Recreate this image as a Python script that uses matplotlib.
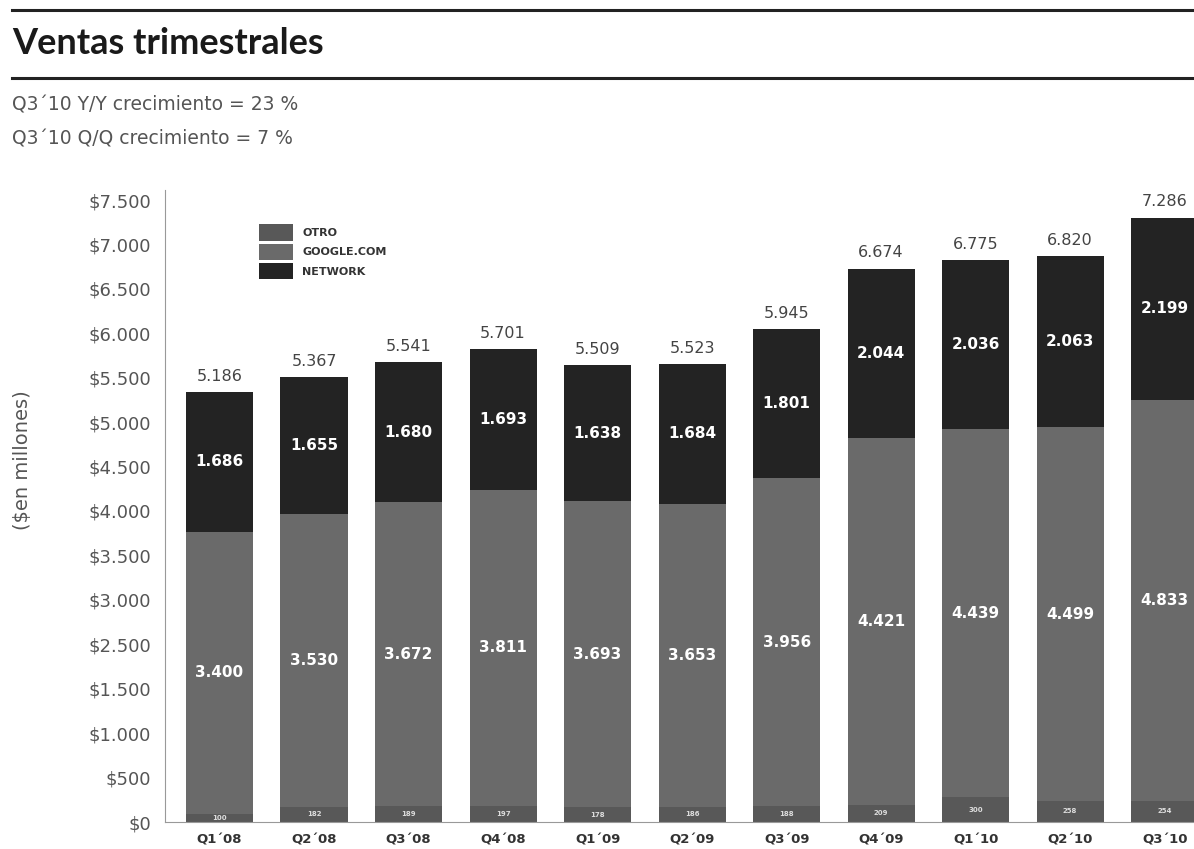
import numpy as np
import matplotlib
matplotlib.use("Agg")
import matplotlib.pyplot as plt
from matplotlib.patches import Patch
from matplotlib.lines import Line2D

# Quarterly revenue split (millions of dollars)
quarters = ["Q1´08", "Q2´08", "Q3´08", "Q4´08", "Q1´09", "Q2´09",
            "Q3´09", "Q4´09", "Q1´10", "Q2´10", "Q3´10"]
otro = [100, 182, 189, 197, 178, 186, 188, 209, 300, 258, 254]
google_com = [3400, 3530, 3672, 3811, 3693, 3653, 3956, 4421, 4439, 4499, 4833]
network = [1686, 1655, 1680, 1693, 1638, 1684, 1801, 2044, 2036, 2063, 2199]

y_tick_labels = ["$0", "$500", "$1.000", "$1.500", "$2.500", "$3.000", "$3.500",
                 "$4.000", "$4.500", "$5.000", "$5.500", "$6.000", "$6.500",
                 "$7.000", "$7.500"]

series_names = ["OTRO", "GOOGLE.COM", "NETWORK"]
colors = ["#585858", "#6a6a6a", "#232323"]


def fmt(v):
    return f"{v:,}".replace(",", ".")


W, H = 1194, 849
fig = plt.figure(figsize=(W / 100, H / 100), dpi=100)
fig.patch.set_facecolor("white")

# Header: rules, title and growth notes
fig.add_artist(Line2D([12 / W, 1.0], [1 - 10 / H, 1 - 10 / H], color="#222222", lw=2.2))
fig.add_artist(Line2D([12 / W, 1.0], [1 - 78 / H, 1 - 78 / H], color="#222222", lw=2.2))
fig.text(12 / W, 1 - 44 / H, "Ventas trimestrales", fontsize=26, fontweight="bold",
         family="Lato", color="#1a1a1a", va="center", ha="left")
fig.text(12 / W, 1 - 105 / H, "Q3´10 Y/Y crecimiento = 23 %", fontsize=13.5,
         family="DejaVu Sans", color="#555555", va="center", ha="left")
fig.text(12 / W, 1 - 139 / H, "Q3´10 Q/Q crecimiento = 7 %", fontsize=13.5,
         family="DejaVu Sans", color="#555555", va="center", ha="left")

ax = fig.add_axes([165 / W, 1 - 822 / H, 1 - 165 / W, (822 - 200) / H])
x = np.arange(len(quarters))
bw = 0.71

otro_a = np.array(otro)
goog_a = np.array(google_com)
net_a = np.array(network)
totals = otro_a + goog_a + net_a

ax.bar(x, otro_a, bw, color=colors[0], zorder=2)
ax.bar(x, goog_a, bw, bottom=otro_a, color=colors[1], zorder=2)
ax.bar(x, net_a, bw, bottom=otro_a + goog_a, color=colors[2], zorder=2)

for i in range(len(x)):
    ax.text(x[i], otro_a[i] / 2, fmt(otro[i]), ha="center", va="center",
            fontsize=5, color="#dddddd", fontweight="bold", zorder=3)
    ax.text(x[i], otro_a[i] + goog_a[i] / 2, fmt(google_com[i]), ha="center",
            va="center", fontsize=11, color="white", fontweight="bold",
            family="DejaVu Sans", zorder=3)
    ax.text(x[i], otro_a[i] + goog_a[i] + net_a[i] / 2, fmt(network[i]),
            ha="center", va="center", fontsize=11, color="white",
            fontweight="bold", family="DejaVu Sans", zorder=3)
    ax.annotate(fmt(int(totals[i])), (x[i], totals[i]), xytext=(0, 6),
                textcoords="offset points", ha="center", va="bottom",
                fontsize=11.5, color="#444444", family="DejaVu Sans",
                annotation_clip=False)

ax.set_xlim(-0.577, 10.31)
ax.set_ylim(0, 7500)
ax.set_yticks(np.linspace(0, 7500, len(y_tick_labels)))
ax.set_yticklabels(y_tick_labels, fontsize=13, color="#555555", family="DejaVu Sans")
ax.set_xticks(x)
ax.set_xticklabels(quarters, fontsize=9.5, fontweight="bold", color="#333333",
                   family="DejaVu Sans")
ax.tick_params(axis="both", length=0)
ax.tick_params(axis="y", pad=10)
ax.tick_params(axis="x", pad=8)

for side in ["top", "right"]:
    ax.spines[side].set_visible(False)
ax.spines["left"].set_color("#999999")
ax.spines["bottom"].set_color("#999999")
ax.spines["left"].set_bounds(0, 7620)

ax.set_ylabel("($en millones)", fontsize=14, color="#555555",
              family="DejaVu Sans")
ax.yaxis.set_label_coords(-133 / (W - 165), (822 - 460) / 622)

handles = [Patch(facecolor=c, edgecolor="none") for c in colors]
leg = ax.legend(handles, series_names, loc="upper left",
                bbox_to_anchor=(0.087, 0.968), frameon=False,
                handlelength=3.1, handleheight=1.9, labelspacing=0.25,
                handletextpad=0.8, borderaxespad=0,
                prop={"size": 8, "weight": "bold", "family": "DejaVu Sans"})
for t in leg.get_texts():
    t.set_color("#333333")

fig.savefig("out.png", dpi=100, facecolor="white")
